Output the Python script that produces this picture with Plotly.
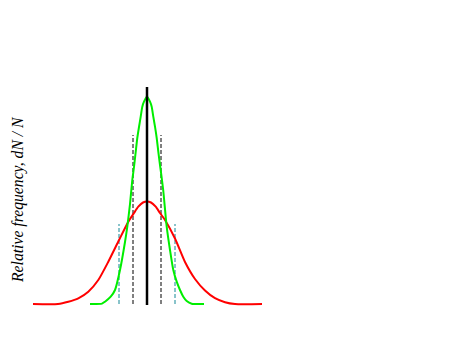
import plotly.graph_objects as go

# Offsets from the centre value (arbitrary units) and relative heights
red_x = [-114, -89, -78.7, -68.7, -58.7, -48.7, -38.7, -27.7, -18.7, -13, -8.7, -4, 0,
         4, 8.7, 13, 18, 28, 38, 48, 58, 68, 78, 88, 115]
red_y = [0, 0, 2.3, 5.7, 12.3, 24, 42.3, 64.5, 82.3, 91, 97.3, 101.5, 102.5,
         101.5, 97.3, 91, 84, 65.5, 42, 25, 13.5, 5.8, 1.8, 0, 0]

green_x = [-57, -45, -42, -36.3, -32, -27, -22, -19.7, -17, -14.7, -13, -11.3, -9.7, -8, -6.3, -4.7, -3, 0,
           3, 4.7, 6.3, 8, 9.7, 11.3, 13, 14.7, 16.3, 19.7, 23, 26.3, 29.7, 33, 36.3, 39.7, 44.7, 57]
green_y = [0, 0.4, 2.3, 7.3, 14, 34, 62, 77.3, 100, 124, 137, 152, 166, 177, 187.3, 197.3, 202.3, 207.5,
           202.3, 197.3, 187.3, 177.3, 166, 152.3, 139, 126, 113, 77.3, 54, 34, 22.3, 14, 7.3, 3, 0.3, 0]

# Reference lines: centre and +/- spread markers
centre_x = 0
centre_top = 217
inner_marks_x = [-14, 14]
inner_marks_top = 169
outer_marks_x = [-28, 28]
outer_marks_top = 80

y_label = "Relative frequency, dN / N"

fig = go.Figure()

for xv in outer_marks_x:
    fig.add_trace(go.Scatter(x=[xv, xv], y=[0, outer_marks_top], mode="lines",
                             line=dict(color="#138896", width=1, dash="4px,2px"),
                             hoverinfo="skip", showlegend=False))
for xv in inner_marks_x:
    fig.add_trace(go.Scatter(x=[xv, xv], y=[0, inner_marks_top], mode="lines",
                             line=dict(color="#000000", width=1, dash="4px,2px"),
                             hoverinfo="skip", showlegend=False))

fig.add_trace(go.Scatter(x=red_x, y=red_y, mode="lines",
                         line=dict(color="#ff0000", width=2, shape="spline", smoothing=0.6),
                         showlegend=False))
fig.add_trace(go.Scatter(x=green_x, y=green_y, mode="lines",
                         line=dict(color="#00ee00", width=2, shape="spline", smoothing=0.6),
                         showlegend=False))
fig.add_trace(go.Scatter(x=[centre_x, centre_x], y=[-1, centre_top], mode="lines",
                         line=dict(color="#000000", width=2.5),
                         hoverinfo="skip", showlegend=False))

fig.add_annotation(text="<i>" + y_label + "</i>", xref="paper", yref="paper",
                   x=-12 / 235, y=0.5, xanchor="center", yanchor="middle",
                   textangle=-90, showarrow=False,
                   font=dict(family="Liberation Serif", size=15.7, color="#000000"))

fig.update_layout(
    width=475, height=356,
    margin=dict(l=30, r=210, t=86, b=42, pad=0),
    paper_bgcolor="white", plot_bgcolor="white",
    xaxis=dict(range=[-117, 118], visible=False, fixedrange=True),
    yaxis=dict(range=[-10, 218], visible=False, fixedrange=True),
    showlegend=False,
)

fig.write_html("out.html")
